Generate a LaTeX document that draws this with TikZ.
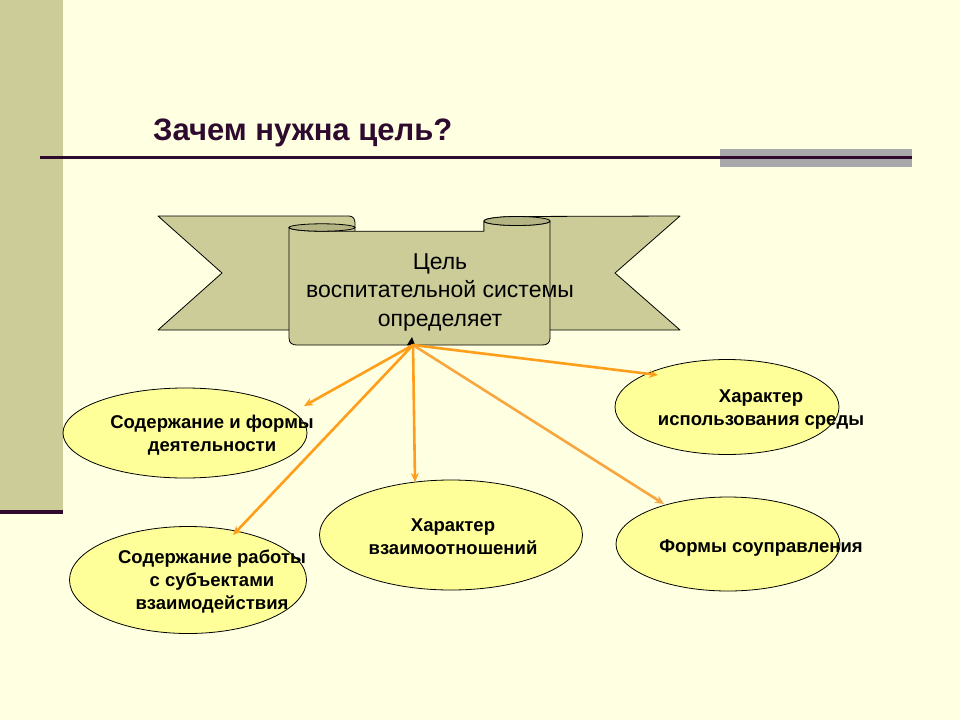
\documentclass[tikz,border=0pt]{standalone}
\usepackage{fontspec}
\setmainfont{Liberation Sans}
\usetikzlibrary{arrows.meta,shapes.geometric}
\definecolor{bg}{HTML}{FFFFE1}
\definecolor{khaki}{HTML}{CCCC99}
\definecolor{khakidark}{HTML}{B4B484}
\definecolor{plum}{HTML}{2E0A2E}
\definecolor{greybar}{HTML}{A9A9AC}
\definecolor{ellfill}{HTML}{FFFF99}
\definecolor{orangeA}{HTML}{FF9E1A}
\definecolor{orangeB}{HTML}{F7A640}
\begin{document}
\begin{tikzpicture}[x=1pt,y=-1pt,
  oval/.style={ellipse,draw=black,line width=0.8pt,fill=ellfill,inner sep=0pt},
  ovaltext/.style={align=center,font=\fontsize{18.5}{23}\selectfont\bfseries,inner sep=0pt},
  ribbon/.style={draw=black,line width=0.8pt,fill=khaki,line join=round},
  roll/.style={draw=black,line width=0.8pt,fill=khakidark},
  arr/.style={draw=orangeA,line width=2.6pt,-{Stealth[length=9pt,width=8pt]}},
  arrlight/.style={arr,draw=orangeB}]
\useasboundingbox (0,0) rectangle (960,720);
\fill[bg] (0,0) rectangle (960,720);
% left bar
\fill[khaki] (0,0) rectangle (63,510);
\fill[plum] (0,510) rectangle (63,514);
% title
\node[anchor=base west,inner sep=0pt,text=plum,font=\fontsize{31}{37}\selectfont\bfseries] (title) at (153,140) {Зачем нужна цель?};
% rule
\fill[greybar] (720,149) rectangle (912,167);
\fill[plum] (40,156) rectangle (912,159);
% ribbon back tails
\path[ribbon] (158,216) -- (349,216) .. controls (353,216) and (355,219) .. (355,223) -- (355,330) -- (158,330) -- (222,273) -- cycle;
\path[ribbon] (680,216) -- (517,216.5) arc[start angle=270,end angle=180,x radius=33,y radius=4.5] -- (484,330) -- (680,330) -- (615,273) -- cycle;
% ribbon front
\path[ribbon] (289,227.5) -- (289,338) .. controls (289,343) and (292,345) .. (297,345) -- (542,345) .. controls (547,345) and (550,343) .. (550,338) -- (550,221) arc[start angle=0,end angle=180,x radius=33,y radius=4.5] -- (484,231.2) -- (322,231.2) arc[start angle=90,end angle=180,x radius=33,y radius=3.7] -- cycle;
% rolls
\path[roll] (322,227.5) ellipse[x radius=33,y radius=3.7];
\path[roll] (517,221) ellipse[x radius=33,y radius=4.5];
\node[align=center,inner sep=0pt,font=\fontsize{23}{28.5}\selectfont] (goal) at (440,292) {Цель\\воспитательной системы\\определяет};
% source point
\coordinate (src) at (413,345);
\fill[black] (407,345) -- (412,337) -- (415,345) -- cycle;
% ellipses
\node[oval,minimum width=244,minimum height=90] (e1) at (185,433) {};
\node[oval,minimum width=224,minimum height=95] (e2) at (727,407) {};
\node[oval,minimum width=263,minimum height=110] (e3) at (451,535) {};
\node[oval,minimum width=224,minimum height=94] (e4) at (728,544) {};
\node[oval,minimum width=237,minimum height=107] (e5) at (188,580) {};
\node[ovaltext] (t1) at (212,435) {Содержание и формы\\деятельности};
\node[ovaltext] (t2) at (761,410) {Характер\\использования среды};
\node[ovaltext] (t3) at (453,537) {Характер\\взаимоотношений};
\node[ovaltext] (t4) at (761,548) {Формы соуправления};
\node[ovaltext] (t5) at (212,582) {Содержание работы\\с субъектами\\взаимодействия};
% arrow ends
\coordinate (a1) at (304,406);
\coordinate (a2) at (658,375);
\coordinate (a3) at (415,482);
\coordinate (a4) at (664,504);
\coordinate (a5) at (233,535);
\draw[arr] (src) -- (a1);
\draw[arr] (src) -- (a5);
\draw[arr] (src) -- (a3);
\draw[arrlight] (src) -- (a4);
\draw[arr] (src) -- (a2);
\end{tikzpicture}
\end{document}
